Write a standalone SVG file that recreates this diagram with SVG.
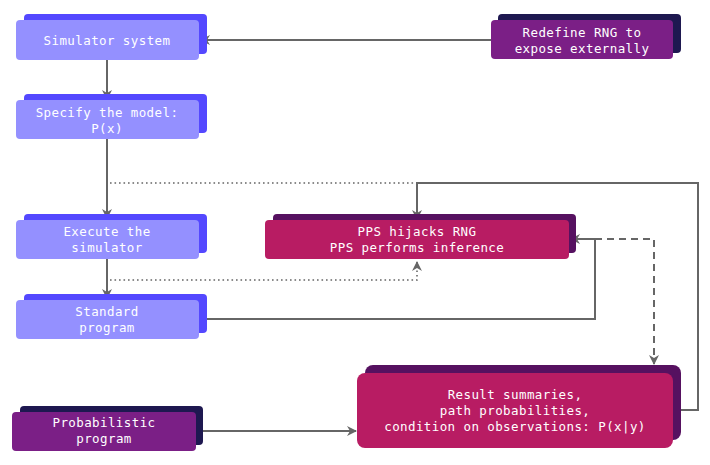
<svg xmlns="http://www.w3.org/2000/svg" width="710" height="465" viewBox="0 0 710 465">
<defs>
<style>
.t{font-family:"DejaVu Sans Mono","Liberation Mono",monospace;font-size:12.5px;fill:#ffffff;text-anchor:middle;letter-spacing:0.4px}
.sf{fill:#9490FF}.ss{fill:#5448FF}
.pf{fill:#7B1F86}.ps{fill:#1E1850}
.mf{fill:#B81C63}.ms{fill:#561160}
.c{fill:none;stroke:#666666;stroke-width:2}
.dot{stroke-width:1.6;stroke-dasharray:1.6 2.9}
.dash{stroke-dasharray:7 5}
</style>
<marker id="ah" viewBox="0 0 10 10" refX="9" refY="5" markerWidth="10" markerHeight="10" markerUnits="userSpaceOnUse" orient="auto">
<path d="M0,0 L10,5 L0,10 L3,5 z" fill="#666666"/>
</marker>
</defs>
<rect width="710" height="465" fill="#ffffff"/>
<g id="connectors">
<path class="c" d="M491,40 H201" marker-end="url(#ah)"/>
<path class="c" d="M107,60 V99" marker-end="url(#ah)"/>
<path class="c" d="M107,139 V218" marker-end="url(#ah)"/>
<path class="c" d="M107,259 V298" marker-end="url(#ah)"/>
<path class="c dot" d="M110,183 H417"/>
<path class="c" d="M673,410 H698 V183 H417 V219" marker-end="url(#ah)"/>
<path class="c dot" d="M110,280 H417 V262" marker-end="url(#ah)"/>
<path class="c" d="M199,319 H595 V239 H571" marker-end="url(#ah)"/>
<path class="c dash" d="M595,239 H654 V364" marker-end="url(#ah)"/>
<path class="c" d="M196,431 H356" marker-end="url(#ah)"/>
</g>
<g id="simulator">
<rect class="ss" x="24" y="14" width="183" height="40" rx="4"/>
<rect class="sf" x="16" y="20" width="183" height="40" rx="4"/>
<text class="t" x="107" y="45">Simulator system</text>
</g>
<g id="specify">
<rect class="ss" x="24" y="94" width="183" height="39" rx="4"/>
<rect class="sf" x="16" y="100" width="183" height="39" rx="4"/>
<text class="t" x="107" y="117">Specify the model:</text>
<text class="t" x="107" y="133">P(x)</text>
</g>
<g id="execute">
<rect class="ss" x="24" y="214" width="183" height="39" rx="4"/>
<rect class="sf" x="16" y="220" width="183" height="39" rx="4"/>
<text class="t" x="107" y="236">Execute the</text>
<text class="t" x="107" y="252">simulator</text>
</g>
<g id="standard">
<rect class="ss" x="24" y="294" width="183" height="39" rx="4"/>
<rect class="sf" x="16" y="300" width="183" height="39" rx="4"/>
<text class="t" x="107" y="316">Standard</text>
<text class="t" x="107" y="332">program</text>
</g>
<g id="redefine">
<rect class="ps" x="498" y="14" width="183" height="39" rx="4"/>
<rect class="pf" x="491" y="20" width="182" height="39" rx="4"/>
<text class="t" x="582" y="37">Redefine RNG to</text>
<text class="t" x="582" y="53">expose externally</text>
</g>
<g id="pps">
<rect class="ms" x="273" y="214" width="303" height="39" rx="4"/>
<rect class="mf" x="265" y="220" width="304" height="39" rx="4"/>
<text class="t" x="417" y="236">PPS hijacks RNG</text>
<text class="t" x="417" y="252">PPS performs inference</text>
</g>
<g id="result">
<rect class="ms" x="365" y="365" width="316" height="75" rx="8"/>
<rect class="mf" x="357" y="373" width="316" height="75" rx="8"/>
<text class="t" x="515" y="399">Result summaries,</text>
<text class="t" x="515" y="415">path probabilities,</text>
<text class="t" x="515" y="431">condition on observations: P(x|y)</text>
</g>
<g id="probabilistic">
<rect class="ps" x="20" y="406" width="183" height="39" rx="4"/>
<rect class="pf" x="12" y="412" width="184" height="39" rx="4"/>
<text class="t" x="104" y="427">Probabilistic</text>
<text class="t" x="104" y="443">program</text>
</g>
</svg>
